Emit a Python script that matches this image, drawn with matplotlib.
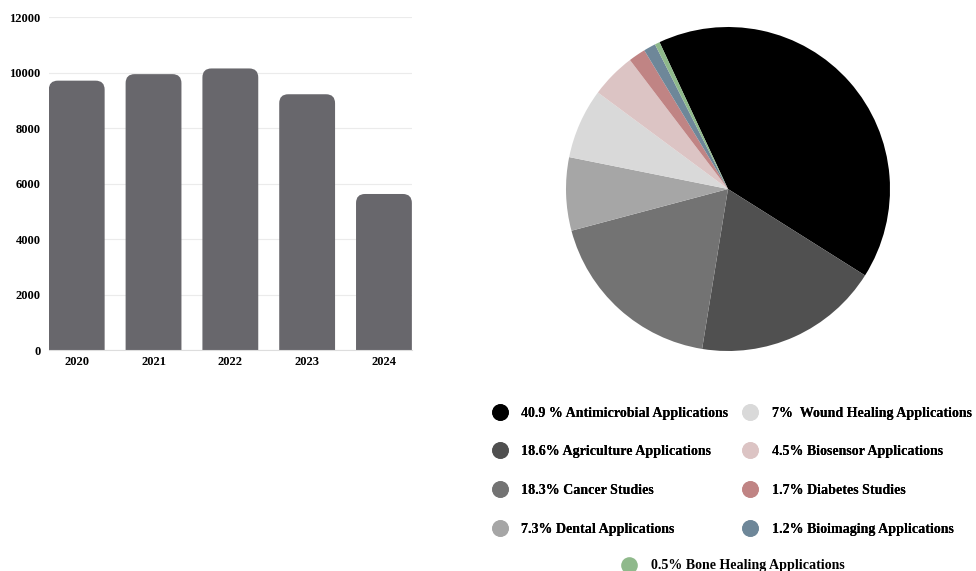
import numpy as np
import matplotlib.pyplot as plt
from matplotlib.patches import FancyBboxPatch
from matplotlib.lines import Line2D

plt.rc('font', family=['Liberation Serif', 'DejaVu Serif'], weight='bold')

# bar chart data
years = ['2020', '2021', '2022', '2023', '2024']
counts = [9710, 9945, 10150, 9220, 5625]
y_ticks = [0, 2000, 4000, 6000, 8000, 10000, 12000]

# pie chart data
shares = [40.9, 18.6, 18.3, 7.3, 7.0, 4.5, 1.7, 1.2, 0.5]
share_labels = ['40.9 % Antimicrobial Applications',
                '18.6% Agriculture Applications',
                '18.3% Cancer Studies',
                '7.3% Dental Applications',
                '7%  Wound Healing Applications',
                '4.5% Biosensor Applications',
                '1.7% Diabetes Studies',
                '1.2% Bioimaging Applications',
                '0.5% Bone Healing Applications']
share_colors = ['#000000', '#505050', '#737373', '#a6a6a6', '#d9d9d9',
                '#dcc4c4', '#c08484', '#6e8799', '#8fb98b']

fig = plt.figure(figsize=(9.76, 5.71), dpi=100)

# ---- bar chart ----
ax = fig.add_axes([0.050, 0.387, 0.372, 0.583])
width = 0.727
x = np.arange(len(years))
bars = ax.bar(x, counts, width=width, color='#68676c', zorder=2)
ax.set_xlim(-width / 2, len(years) - 1 + width / 2)
ax.set_ylim(0, 12000)

# swap the square bars for ones with rounded tops (bottom is clipped by the axes)
yr = 12000 / (0.583 * 571)   # data units per pixel in y
xr = (len(years) - 1 + width) / (0.372 * 976)
rad = 9 * xr
for b in bars:
    b.set_visible(False)
    bx, bw, bh = b.get_x(), b.get_width(), b.get_height()
    p = FancyBboxPatch((bx, -2 * rad * yr / xr), bw, bh + 2 * rad * yr / xr,
                       boxstyle='round,pad=0,rounding_size=%f' % rad,
                       mutation_aspect=yr / xr, facecolor='#68676c',
                       edgecolor='none', zorder=2, clip_on=True)
    ax.add_patch(p)

ax.set_yticks(y_ticks)
ax.set_xticks(x)
ax.set_xticklabels(years)
ax.tick_params(axis='both', length=0, labelsize=9)
ax.tick_params(axis='y', pad=5.8)
ax.tick_params(axis='x', pad=4)
ax.grid(axis='y', color='#ebebeb', linewidth=0.8, zorder=0)
for s in ['top', 'right', 'left']:
    ax.spines[s].set_visible(False)
ax.spines['bottom'].set_color('#dddddd')
ax.spines['bottom'].set_zorder(3)

# ---- pie chart ----
r_px = 162
cx, cy = 728, 189
pax = fig.add_axes([(cx - r_px) / 976, 1 - (cy + r_px) / 571,
                    2 * r_px / 976, 2 * r_px / 571])
wedges, _ = pax.pie(shares, colors=share_colors, startangle=115,
                    counterclock=False, radius=1.0)
pax.set_xlim(-1, 1)
pax.set_ylim(-1, 1)
pax.set_aspect('equal')

handles = [Line2D([], [], marker='o', linestyle='none', markersize=12,
                  markerfacecolor=c, markeredgecolor='none')
           for c in share_colors]

fs = 10.1
leg1 = fig.legend(handles[:8], share_labels[:8], ncol=2, frameon=False,
                  loc='upper left', bbox_to_anchor=(489 / 976, 1 - 406.5 / 571),
                  fontsize=fs, handlelength=1.5, handletextpad=0.8,
                  labelspacing=1.83, columnspacing=0.82, borderpad=0,
                  borderaxespad=0)
fig.add_artist(leg1)
fig.legend(handles[8:], share_labels[8:], frameon=False,
           loc='upper left', bbox_to_anchor=(618.5 / 976, 1 - 559.5 / 571),
           fontsize=fs, handlelength=1.5, handletextpad=0.8,
           borderpad=0, borderaxespad=0)

fig.savefig('out.png', dpi=100)
